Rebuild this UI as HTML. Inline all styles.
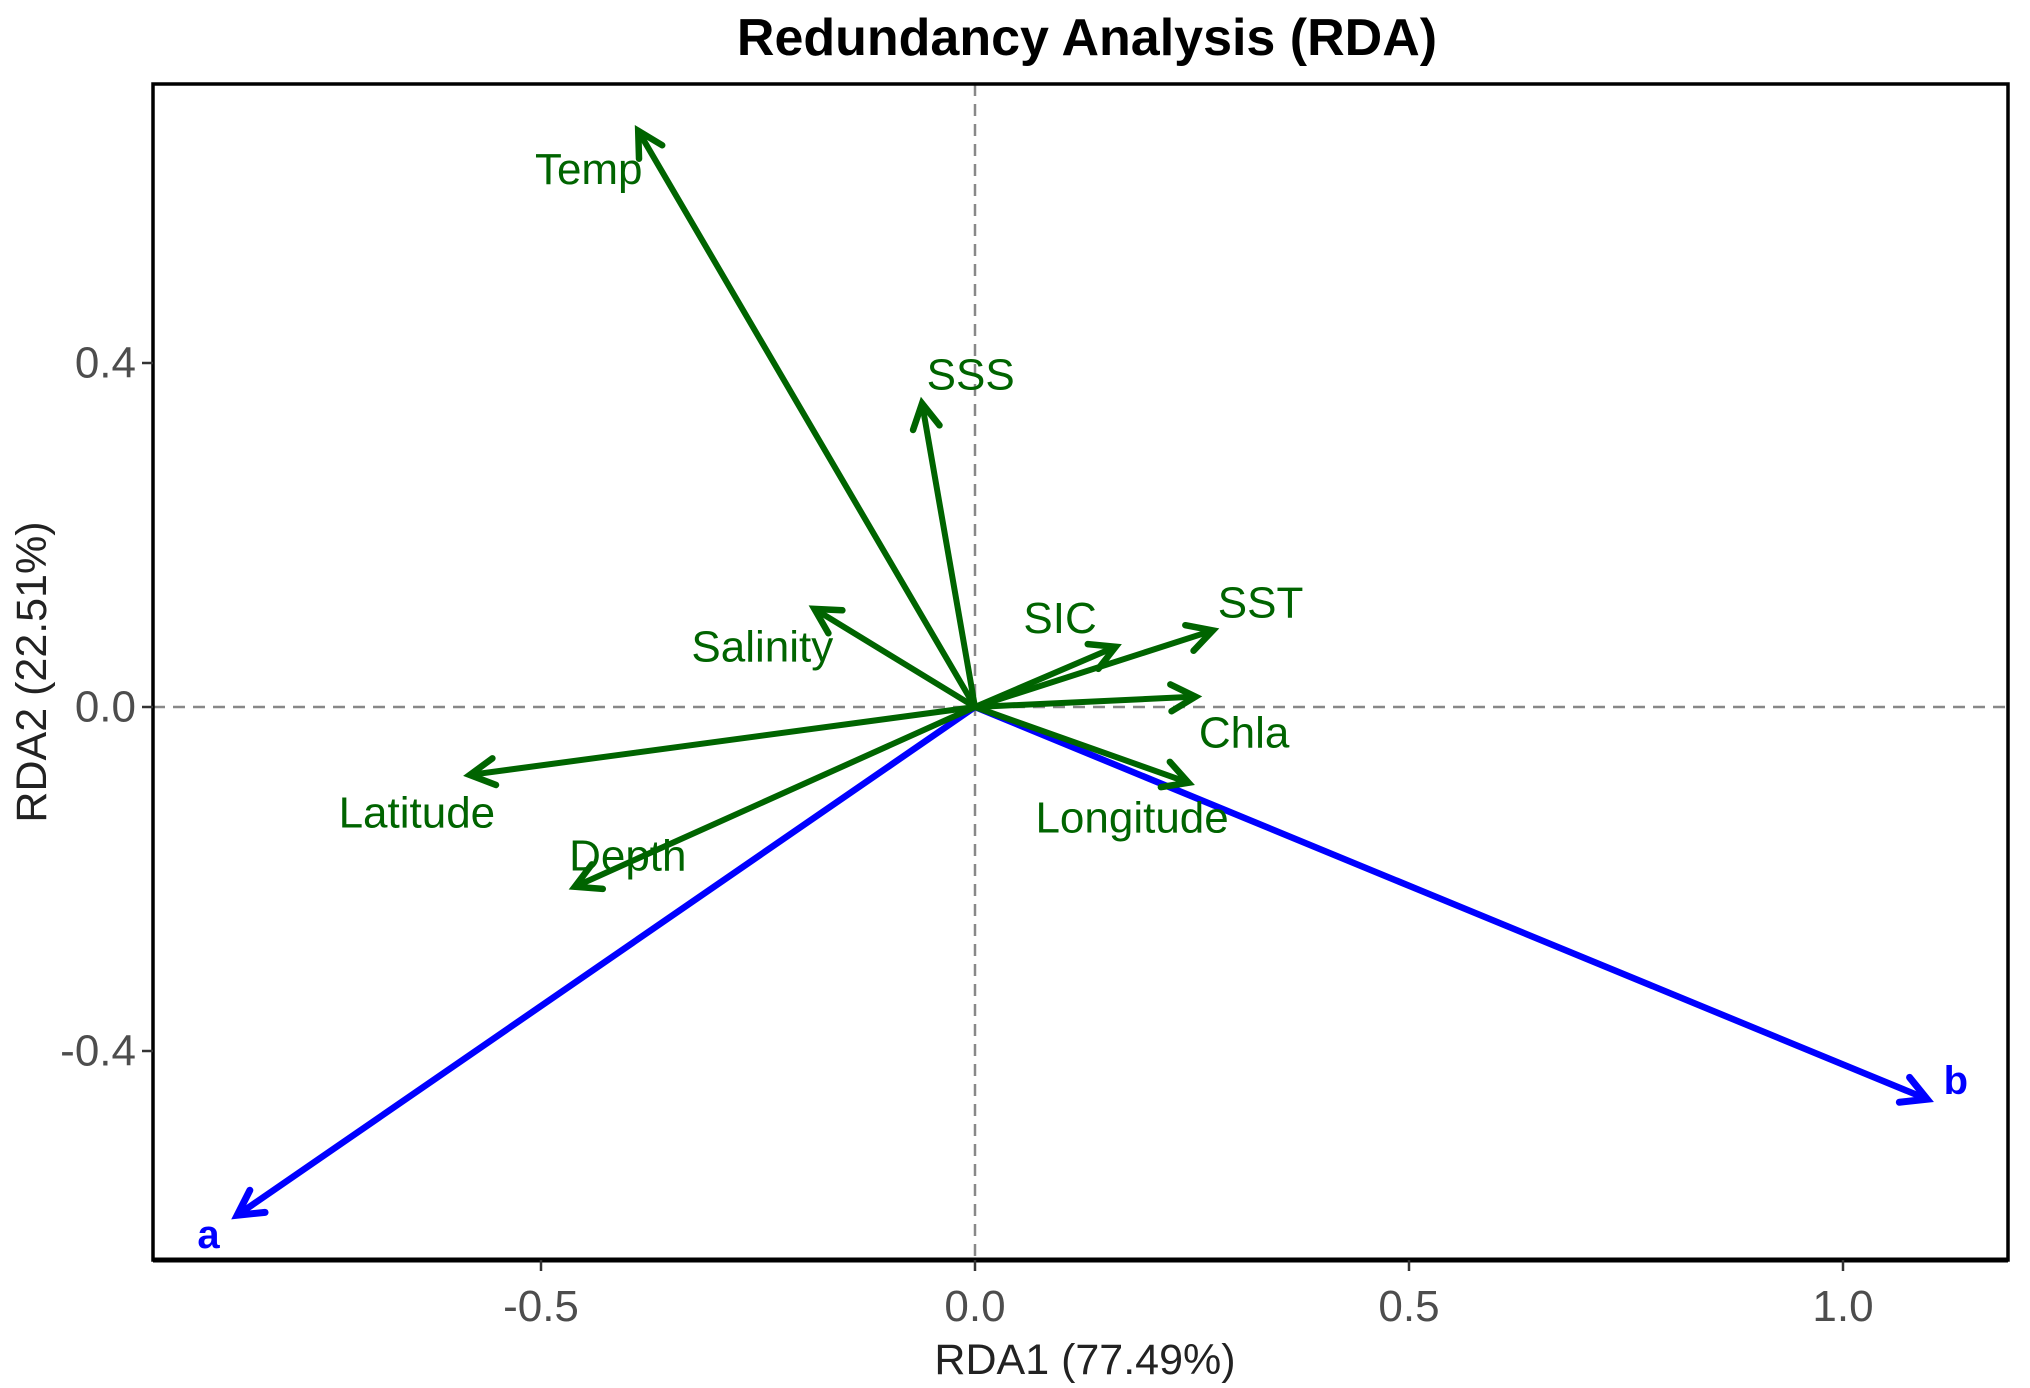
<!DOCTYPE html>
<html><head><meta charset="utf-8"><style>
html,body{margin:0;padding:0;background:#fff;}
svg{display:block;font-family:"Liberation Sans",Arial,sans-serif;}
</style></head><body>
<svg id="chart" width="2030" height="1388" viewBox="0 0 2030 1388" xmlns="http://www.w3.org/2000/svg">
<text x="1087" y="55" text-anchor="middle" font-size="52" font-weight="bold" fill="#000">Redundancy Analysis (RDA)</text>
<g id="grid"></g>
<g id="arrows"></g>
<rect x="153" y="84" width="1855" height="1176" fill="none" stroke="#000" stroke-width="3.5"/>
<line x1="153" x2="2008" y1="1260" y2="1260" stroke="#000" stroke-width="5"/>
<g id="axes"></g>
<text x="1085" y="1374" text-anchor="middle" font-size="43" fill="#222">RDA1 (77.49%)</text>
<text transform="translate(46,672) rotate(-90)" text-anchor="middle" font-size="43" fill="#222">RDA2 (22.51%)</text>
</svg>
<script>
const varNames = ["Temp","SSS","Salinity","SIC","SST","Chla","Longitude","Latitude","Depth"];
const varX = [-0.388,-0.061,-0.185,0.162,0.274,0.254,0.246,-0.582,-0.461];
const varY = [0.670,0.353,0.114,0.070,0.089,0.012,-0.088,-0.079,-0.209];
const varLabelX = [-0.445,-0.005,-0.245,0.098,0.329,0.310,0.181,-0.643,-0.400];
const varLabelY = [0.625,0.386,0.070,0.103,0.121,-0.030,-0.129,-0.123,-0.173];
const grpNames = ["a","b"];
const grpX = [-0.850,1.097];
const grpY = [-0.591,-0.456];
const grpLabelX = [-0.883,1.130];
const grpLabelY = [-0.614,-0.435];
const xTicks = [-0.5,0,0.5,1.0];
const xTickLabels = ["-0.5","0.0","0.5","1.0"];
const yTicks = [0.4,0,-0.4];
const yTickLabels = ["0.4","0.0","-0.4"];

const X0=975, XU=868, Y0=707, YU=860;
const L=153,R=2008,T=84,B=1260;
const sx=v=>X0+v*XU, sy=v=>Y0-v*YU;
const NS="http://www.w3.org/2000/svg";
function mk(tag,attrs,parent){const e=document.createElementNS(NS,tag);for(const k in attrs)e.setAttribute(k,attrs[k]);parent.appendChild(e);return e;}
const grid=document.getElementById('grid'),arrows=document.getElementById('arrows'),axes=document.getElementById('axes');

let hl=mk('line',{x1:L,x2:R,y1:sy(0),y2:sy(0),stroke:'#888','stroke-width':2.5,'stroke-dasharray':'12 8'},grid);


let vl=mk('line',{x1:sx(0),x2:sx(0),y1:T,y2:B,stroke:'#888','stroke-width':2.5,'stroke-dasharray':'12 8'},grid);



function arrow(x,y,color,w,name){
  const g=mk('g',{},arrows);
  
  
  const x1=sx(0),y1=sy(0),x2=sx(x),y2=sy(y);
  mk('line',{x1:x1,y1:y1,x2:x2,y2:y2,stroke:color,'stroke-width':w,'stroke-linecap':'round'},g);
  const ang=Math.atan2(y2-y1,x2-x1),len=28,sp=0.5;
  const p1=[x2-len*Math.cos(ang-sp),y2-len*Math.sin(ang-sp)];
  const p2=[x2-len*Math.cos(ang+sp),y2-len*Math.sin(ang+sp)];
  mk('polyline',{points:`${p1[0]},${p1[1]} ${x2},${y2} ${p2[0]},${p2[1]}`,fill:'none',stroke:color,'stroke-width':w+0.5,'stroke-linecap':'round','stroke-linejoin':'miter'},g);
}
function label(txt,x,y,color,bold,name){
  const t=mk('text',{x:sx(x),y:sy(y),'text-anchor':'middle','dominant-baseline':'central','font-size':bold?40:44,fill:color,'font-weight':bold?'bold':'normal'},arrows);
  t.textContent=txt;
  
  
}
for(let i=0;i<grpNames.length;i++){
  arrow(grpX[i],grpY[i],'#0000ff',6.5,'group-arrow-'+grpNames[i]);
}
for(let i=0;i<varNames.length;i++){
  arrow(varX[i],varY[i],'#006400',6,'variable-arrow-'+varNames[i].toLowerCase());
}
for(let i=0;i<varNames.length;i++){
  label(varNames[i],varLabelX[i],varLabelY[i],'#006400',false,'variable-label-'+varNames[i].toLowerCase());
}
for(let i=0;i<grpNames.length;i++){
  label(grpNames[i],grpLabelX[i],grpLabelY[i],'#0000ff',true,'group-label-'+grpNames[i]);
}
for(let i=0;i<xTicks.length;i++){
  const x=sx(xTicks[i]);
  const tk=mk('line',{x1:x,x2:x,y1:B,y2:B+11,stroke:'#333','stroke-width':2.5},axes);
  
  
  const t=mk('text',{x:x,y:1321,'text-anchor':'middle','font-size':44,fill:'#4d4d4d'},axes);
  t.textContent=xTickLabels[i];
  
  
}
for(let i=0;i<yTicks.length;i++){
  const y=sy(yTicks[i]);
  const tk=mk('line',{x1:L-11,x2:L,y1:y,y2:y,stroke:'#333','stroke-width':2.5},axes);
  
  
  const t=mk('text',{x:L-17,y:y,'text-anchor':'end','dominant-baseline':'central','font-size':44,fill:'#4d4d4d'},axes);
  t.textContent=yTickLabels[i];
  
  
}
</script>
</body></html>
